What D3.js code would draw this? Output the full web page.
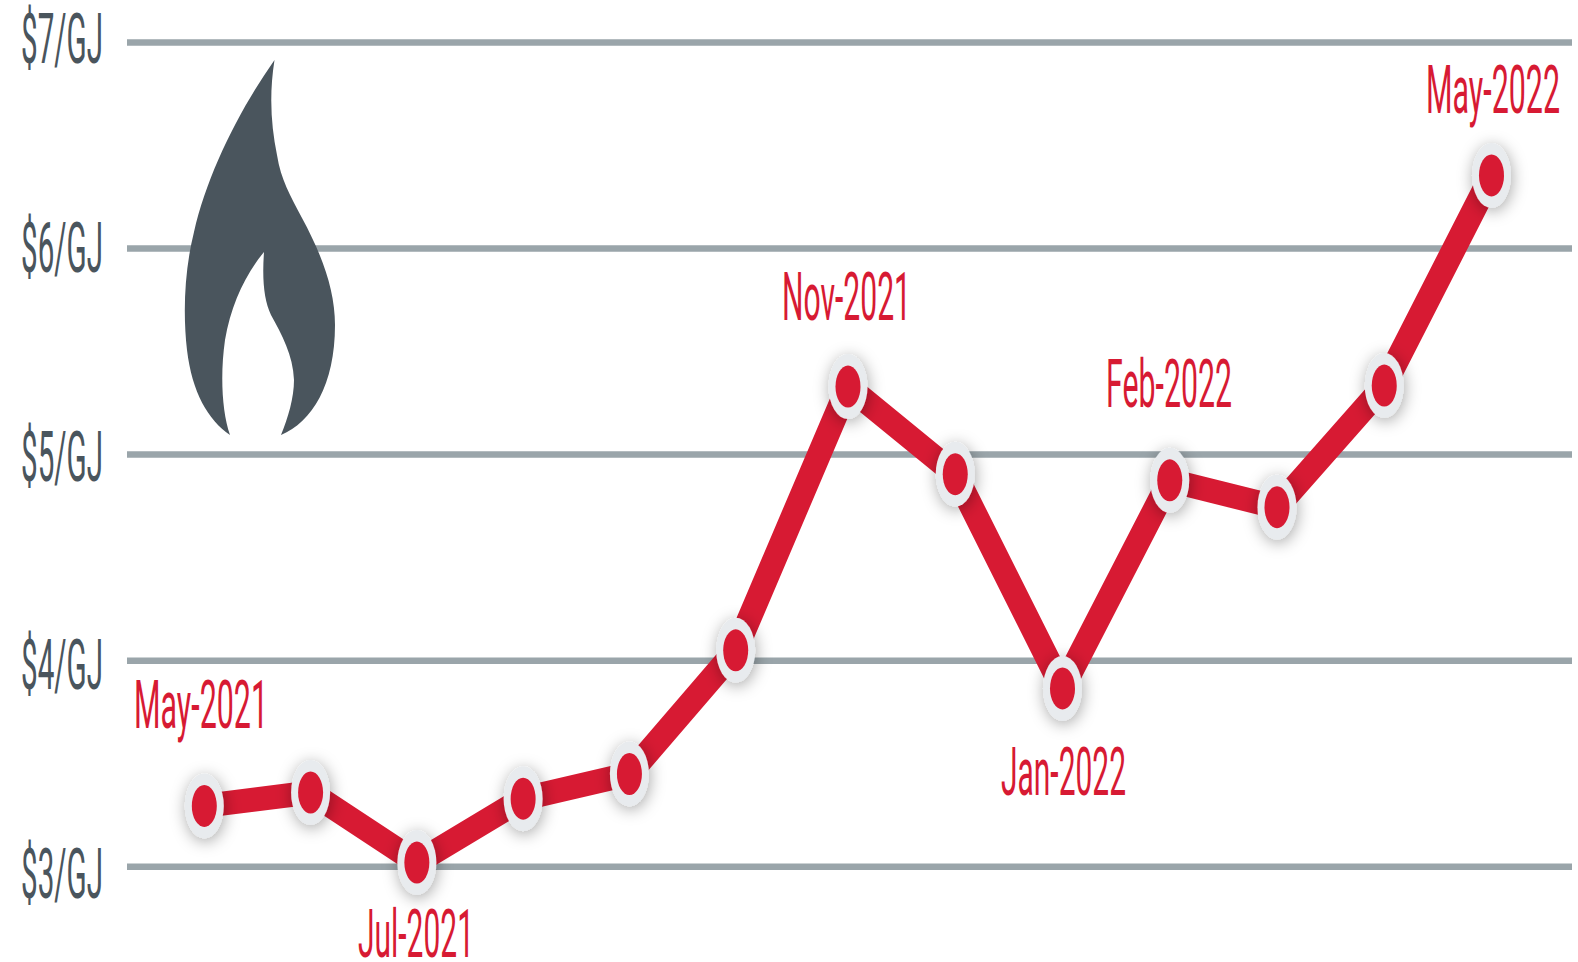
<!DOCTYPE html>
<html>
<head>
<meta charset="utf-8">
<script src="https://cdn.jsdelivr.net/npm/d3@7"></script>
<style>
  html, body { margin: 0; padding: 0; background: #fff; }
  svg { display: block; }
  text { font-family: Roboto, sans-serif; }
</style>
</head>
<body>
<div id="chart"></div>
<script>
const months = ['May-2021', 'Jun-2021', 'Jul-2021', 'Aug-2021', 'Sep-2021', 'Oct-2021', 'Nov-2021',
                'Dec-2021', 'Jan-2022', 'Feb-2022', 'Mar-2022', 'Apr-2022', 'May-2022'];
const prices = [3.295, 3.36, 3.02, 3.33, 3.45, 4.05, 5.33, 4.905, 3.865, 4.875, 4.745, 5.335, 6.355];
const tickValues = [3, 4, 5, 6, 7];
const labelled = ['May-2021', 'Jul-2021', 'Nov-2021', 'Jan-2022', 'Feb-2022', 'May-2022'];

const width = 1578, height = 962;
const red = '#d71a33', slate = '#4a555d', grid = '#9aa5aa', ring = '#e8ebee';

const svg = d3.select('#chart').append('svg')
    .attr('width', width)
    .attr('height', height);

const defs = svg.append('defs');
const shadow = defs.append('filter')
    .attr('id', 'shadow')
    .attr('x', '-80%').attr('y', '-60%')
    .attr('width', '260%').attr('height', '220%');
shadow.append('feDropShadow')
    .attr('dx', 1).attr('dy', 3)
    .attr('stdDeviation', 8)
    .attr('flood-color', '#000')
    .attr('flood-opacity', 0.35);

// months are not quite evenly spaced in the original, so piecewise
const x = d3.scaleLinear().domain([0, 5, 6, 12]).range([204.3, 735.7, 848, 1491.5]);
const y = d3.scaleLinear().domain([3, 7]).range([866.7, 42.5]);
// the axis text sits on a slightly different spacing than the grid
const yLabel = d3.scaleLinear().domain([3, 7]).range([898, 63]);

// squeeze a text to a given width, like the narrow lettering of the original
function fitText(sel, left, baseline, w) {
    sel.attr('transform', function(d, i) {
        const natural = this.getComputedTextLength();
        return `translate(${left(d, i)},${baseline(d, i)}) scale(${w(d, i) / natural},1)`;
    });
}

// grid
svg.append('g').selectAll('line')
    .data(tickValues)
    .enter().append('line')
    .attr('x1', 127)
    .attr('x2', 1572)
    .attr('y1', d => y(d))
    .attr('y2', d => y(d))
    .attr('stroke', grid)
    .attr('stroke-width', 6.5);

// axis labels
svg.append('g').selectAll('text')
    .data(tickValues)
    .enter().append('text')
    .attr('font-size', 71)
    .attr('fill', slate)
    .text(d => `$${d}/GJ`)
    .call(fitText, () => 21, d => yLabel(d), () => 82);

// flame icon
svg.append('path')
    .attr('fill', slate)
    .attr('d', 'M274.5 60 C238 112 207 175 194 232 C184 272 183 315 187 350 C192 392 208 420 230 435 ' +
               'C222 412 220 375 225 340 C231 305 245 275 264 252 C262 280 264 300 271 315 ' +
               'C282 335 293 355 294 380 C294 398 288 418 281 435 C312 422 335 385 335 325 ' +
               'C335 290 322 255 302 218 C290 195 281 180 277 155 C271 125 269 95 274.5 60 Z');

// line
const line = d3.line()
    .x((d, i) => x(i))
    .y(d => y(d));

svg.append('path')
    .datum(prices)
    .attr('fill', 'none')
    .attr('stroke', red)
    .attr('stroke-width', 24)
    .attr('stroke-linejoin', 'round')
    .attr('d', line);

// markers
const points = svg.append('g').selectAll('g')
    .data(prices)
    .enter().append('g')
    .attr('transform', (d, i) => `translate(${x(i)},${y(d)})`);

points.append('ellipse')
    .attr('rx', 19.5)
    .attr('ry', 32.5)
    .attr('fill', ring)
    .attr('filter', 'url(#shadow)');

points.append('ellipse')
    .attr('rx', 12.5)
    .attr('ry', 21)
    .attr('fill', red);

// month labels: left edge, baseline and width
const labelX = [134, 358, 782, 1001, 1106, 1426];
const labelY = [728, 957, 320, 795, 407, 113];
const labelW = [134, 116, 129, 125, 126, 134];

svg.append('g').selectAll('text')
    .data(labelled)
    .enter().append('text')
    .attr('font-size', 66)
    .attr('fill', red)
    .text(d => d)
    .call(fitText, (d, i) => labelX[i], (d, i) => labelY[i], (d, i) => labelW[i]);
</script>
</body>
</html>
